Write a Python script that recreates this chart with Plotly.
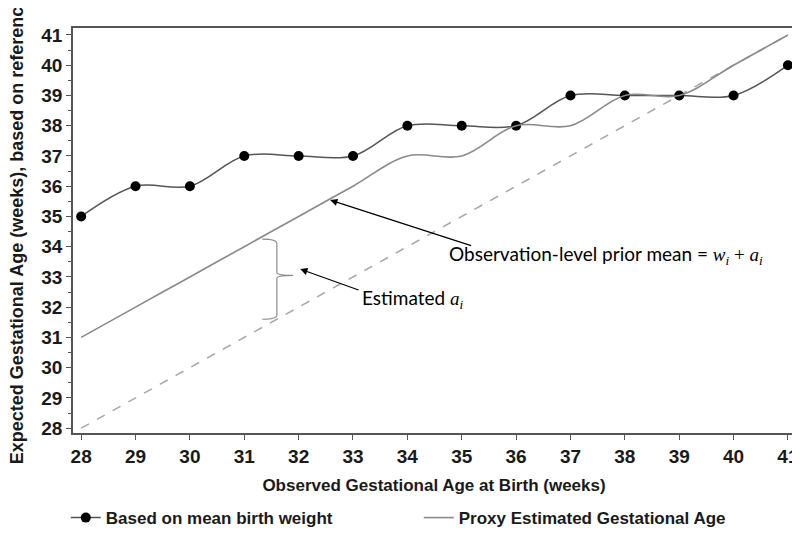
import plotly.graph_objects as go

# observed gestational age at birth (weeks)
weeks = [28, 29, 30, 31, 32, 33, 34, 35, 36, 37, 38, 39, 40, 41]
# expected gestational age based on mean birth weight
mean_bw = [35, 36, 36, 37, 37, 37, 38, 38, 38, 39, 39, 39, 39, 40]
# proxy estimated gestational age
proxy = [31, 32, 33, 34, 35, 36, 37, 37, 38, 38, 39, 39, 40, 41]
# reference diagonal y = x
diag_x = [28, 41]
diag_y = [28, 41]

# brace marking the estimated a_i (data coords)
brace_x = 31.6
brace_hook = 31.33
brace_tip = 31.9
brace_top = 34.25
brace_bottom = 31.6
brace_mid = 33.05

tick_vals = list(range(28, 42))

fig = go.Figure()

fig.add_trace(go.Scatter(
    x=diag_x, y=diag_y,
    mode='lines',
    line=dict(color='#a8a8a8', width=1.5, dash='dash'),
    showlegend=False,
    hoverinfo='skip'
))

fig.add_trace(go.Scatter(
    x=weeks, y=mean_bw,
    mode='lines+markers',
    name='Based on mean birth weight',
    line=dict(color='#555555', width=1.5, shape='spline', smoothing=1),
    marker=dict(color='black', size=10)
))

fig.add_trace(go.Scatter(
    x=weeks, y=proxy,
    mode='lines',
    name='Proxy Estimated Gestational Age',
    line=dict(color='#8a8a8a', width=1.6, shape='spline', smoothing=1)
))

# curly brace
path = (
    f"M {brace_hook},{brace_top} Q {brace_x},{brace_top} {brace_x},{brace_top - 0.15} "
    f"L {brace_x},{brace_mid + 0.1} Q {brace_x},{brace_mid} {brace_tip},{brace_mid} "
    f"Q {brace_x},{brace_mid} {brace_x},{brace_mid - 0.1} "
    f"L {brace_x},{brace_bottom + 0.15} Q {brace_x},{brace_bottom} {brace_hook},{brace_bottom}"
)
fig.add_shape(type='path', path=path, xref='x', yref='y',
              line=dict(color='#8a8a8a', width=1.2))

serif = 'font-family:Liberation Serif'
fig.add_annotation(
    x=32.58, y=35.54, ax=35.2, ay=34.02, axref='x', ayref='y',
    text='', showarrow=True, arrowhead=2, arrowsize=1.2, arrowwidth=1.2,
    arrowcolor='black'
)
fig.add_annotation(
    x=34.73, y=33.72, xanchor='left', yanchor='middle', showarrow=False,
    text=f'Observation-level prior mean = <span style="{serif}"><i>w<sub>i</sub></i> + <i>a<sub>i</sub></i></span>',
    font=dict(family='Lato', size=19, color='black')
)
fig.add_annotation(
    x=32.03, y=33.26, ax=33.13, ay=32.55, axref='x', ayref='y',
    text='', showarrow=True, arrowhead=2, arrowsize=1.2, arrowwidth=1.2,
    arrowcolor='black'
)
fig.add_annotation(
    x=33.13, y=32.28, xanchor='left', yanchor='middle', showarrow=False,
    text=f'Estimated <span style="{serif}"><i>a<sub>i</sub></i></span>',
    font=dict(family='Lato', size=19, color='black')
)

# y axis title as a rotated annotation so it can sit near the page edge
fig.add_annotation(
    xref='paper', yref='paper', x=-0.078, y=0.5,
    xanchor='center', yanchor='middle', showarrow=False, textangle=-90,
    text='Expected Gestational Age (weeks), based on reference',
    font=dict(family='Liberation Sans', size=18, color='#1a1a1a', weight='bold')
)

axis_common = dict(
    showgrid=False, zeroline=False, automargin=False,
    showline=True, linecolor='#555555', linewidth=1.5, mirror=True,
    ticks='outside', ticklen=5, tickcolor='#555555',
    tickvals=tick_vals,
    tickfont=dict(family='Liberation Sans', size=19, color='#1a1a1a', weight='bold'),
)

fig.update_xaxes(
    range=[27.85, 41.13],
    title=dict(text='Observed Gestational Age at Birth (weeks)',
               font=dict(family='Liberation Sans', size=17, color='#1a1a1a', weight='bold'),
               standoff=14),
    **axis_common
)
fig.update_yaxes(
    range=[27.84, 41.23],
    minor=dict(dtick=0.5, ticks='outside', ticklen=3, tickcolor='#555555'),
    **axis_common
)

# page body adds an 8px offset, margins compensate for it
fig.update_layout(
    width=800, height=540,
    margin=dict(l=65, r=13, t=20, b=113),
    plot_bgcolor='white', paper_bgcolor='white',
    legend=dict(
        orientation='h', x=-0.01, xanchor='left', y=-0.21, yanchor='middle',
        entrywidth=308, entrywidthmode='pixels',
        font=dict(family='Liberation Sans', size=17, color='#1a1a1a', weight='bold')
    )
)

fig.write_html("out.html")
